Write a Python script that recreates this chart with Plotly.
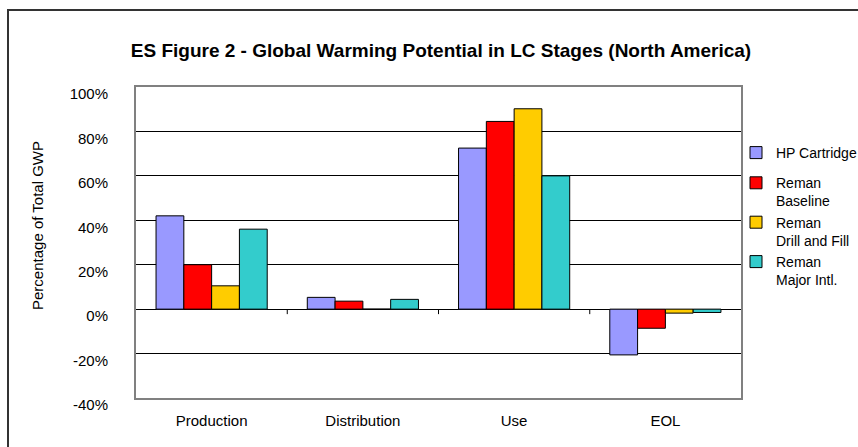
import plotly.graph_objects as go

categories = ["Production", "Distribution", "Use", "EOL"]
series_names = ["HP Cartridge", "Reman<br>Baseline", "Reman<br>Drill and Fill", "Reman<br>Major Intl."]
hp_cartridge = [42.0, 5.3, 72.5, -20.6]
reman_baseline = [20.0, 3.6, 84.5, -8.6]
reman_drill_fill = [10.5, 0.0, 90.2, -1.8]
reman_major_intl = [36.0, 4.4, 60.0, -1.5]
colors = ["#9999FF", "#FF0000", "#FFCC00", "#33CCCC"]
y_ticks = [-40, -20, 0, 20, 40, 60, 80, 100]
y_tick_labels = ["-40%", "-20%", "0%", "20%", "40%", "60%", "80%", "100%"]
title_text = "ES Figure 2 - Global Warming Potential in LC Stages (North America)"
y_title = "Percentage of Total GWP"

FONT = "Liberation Sans, Arial, sans-serif"
W, H = 858, 447
L, R, T, B = 136, 117, 87, 49
pw, ph = W - L - R, H - T - B

fig = go.Figure()
for i, (name, vals) in enumerate(zip(series_names, [hp_cartridge, reman_baseline, reman_drill_fill, reman_major_intl])):
    fig.add_trace(go.Bar(
        x=categories, y=vals, name=name, legendgroup="a" if i == 0 else "b",
        marker=dict(color=colors[i], line=dict(color="black", width=1)),
    ))

# category tick marks between categories on the zero line
for k in range(len(categories) - 1):
    fig.add_shape(type="line", xref="x", yref="y", x0=k + 0.5, x1=k + 0.5,
                  ysizemode="pixel", yanchor=0, y0=0, y1=-5,
                  line=dict(color="black", width=1))

def px_x(p):
    return (p - L) / pw
def px_y(p):
    return (H - B - p) / ph

# outer chart frame
fig.add_shape(type="rect", xref="paper", yref="paper",
              x0=px_x(8), x1=px_x(880), y0=px_y(10), y1=px_y(470),
              line=dict(color="#333333", width=2), layer="above")

fig.add_annotation(text=y_title, xref="paper", yref="paper", x=px_x(37), y=px_y(226),
                   xanchor="center", yanchor="middle",
                   textangle=-90, showarrow=False, font=dict(family=FONT, size=15, color="black"))

fig.update_layout(
    width=W, height=H,
    margin=dict(l=L, r=R, t=T, b=B, autoexpand=False),
    paper_bgcolor="white", plot_bgcolor="white",
    barmode="group", bargap=0.265, bargroupgap=0,
    font=dict(family=FONT, size=15, color="black"),
    title=dict(text="<b>" + title_text + "</b>", x=441 / W, xref="container", xanchor="center",
               y=1 - 50 / H, yref="container", yanchor="middle",
               font=dict(family=FONT, size=19, color="black")),
    legend=dict(x=px_x(736), y=px_y(137), xanchor="left", yanchor="top",
                valign="top", tracegroupgap=9, font=dict(family=FONT, size=14),
                bgcolor="rgba(0,0,0,0)"),
    showlegend=True,
)
fig.update_xaxes(range=[-0.5, 3.5], showline=True, mirror=True, linecolor="#808080", linewidth=2,
                 showgrid=False, ticks="", ticklabelstandoff=8,
                 tickfont=dict(family=FONT, size=15))
fig.update_yaxes(range=[-40, 100], tickmode="array", tickvals=y_ticks, ticktext=y_tick_labels,
                 showline=True, mirror=True,
                 linecolor="#808080", linewidth=2, showgrid=True, gridcolor="black", gridwidth=1,
                 zeroline=True, zerolinecolor="black", zerolinewidth=1, ticks="",
                 ticklabelstandoff=23, ticklabelshift=7,
                 tickfont=dict(family=FONT, size=15))

fig.write_html("out.html", config={"displayModeBar": False},
               post_script="document.body.style.margin='0px';")
